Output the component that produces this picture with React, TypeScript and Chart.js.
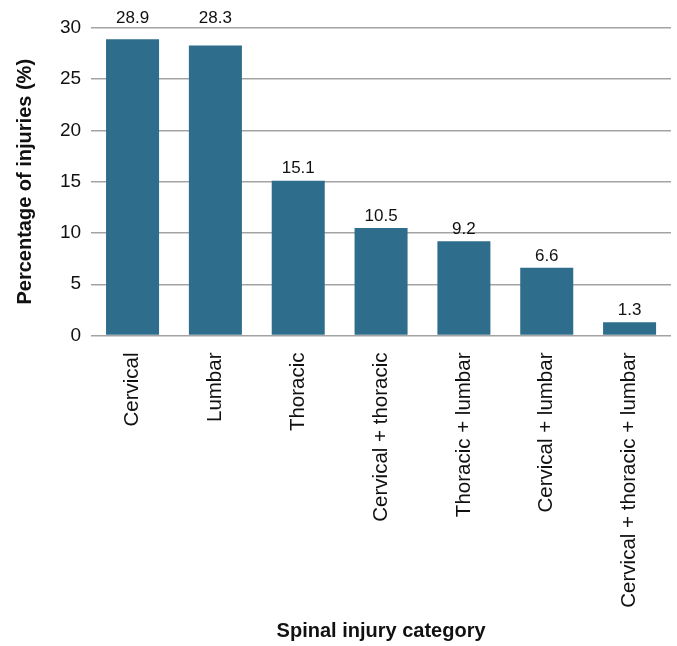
import React, { useEffect, useRef } from "react";
import { Chart, registerables } from "chart.js";

Chart.register(...registerables);

const categories = [
  "Cervical",
  "Lumbar",
  "Thoracic",
  "Cervical + thoracic",
  "Thoracic + lumbar",
  "Cervical + lumbar",
  "Cervical + thoracic + lumbar",
];
const percentages = [28.9, 28.3, 15.1, 10.5, 9.2, 6.6, 1.3];
const yTicks = [0, 5, 10, 15, 20, 25, 30];

const FONT = "Arial, 'Liberation Sans', Helvetica, sans-serif";
const BAR_COLOR = "#2e6d8c";

Chart.defaults.font.family = FONT;

const valueLabels = {
  id: "valueLabels",
  afterDatasetsDraw(chart: any) {
    const { ctx, chartArea } = chart;
    const meta = chart.getDatasetMeta(0);
    ctx.save();
    ctx.font = `17px ${FONT}`;
    ctx.fillStyle = "#111";
    ctx.textAlign = "center";
    ctx.textBaseline = "middle";
    meta.data.forEach((bar: any, i: number) => {
      let y = bar.y - 12;
      // keep labels clear of the top grid line
      if (y > chartArea.top - 10 && y < chartArea.top + 10) y = chartArea.top - 10;
      ctx.fillText(percentages[i].toFixed(1), bar.x, y);
    });
    ctx.restore();
  },
};

export default function App() {
  const ref = useRef<HTMLCanvasElement | null>(null);

  useEffect(() => {
    if (!ref.current) return;
    const chart = new Chart(ref.current, {
      type: "bar",
      data: {
        labels: categories,
        datasets: [
          {
            data: percentages,
            backgroundColor: BAR_COLOR,
            categoryPercentage: 1,
            barPercentage: 0.64,
          },
        ],
      },
      options: {
        animation: false,
        responsive: true,
        maintainAspectRatio: false,
        devicePixelRatio: 1,
        layout: { padding: { top: 28, right: 6, left: 13, bottom: 3 } },
        plugins: {
          legend: { display: false },
          tooltip: { enabled: false },
        },
        scales: {
          x: {
            grid: { display: false },
            border: { display: false },
            ticks: {
              color: "#111",
              font: { family: FONT, size: 20.5 },
              minRotation: 90,
              maxRotation: 90,
              autoSkip: false,
              padding: 9,
            },
            title: {
              display: true,
              text: "Spinal injury category",
              color: "#111",
              font: { family: FONT, size: 20, weight: "bold" },
              padding: { top: 10, bottom: 0 },
            },
          },
          y: {
            min: 0,
            max: 30,
            afterBuildTicks(axis: any) {
              axis.ticks = yTicks.map((v) => ({ value: v }));
            },
            grid: {
              color: "#a3a3a3",
              lineWidth: 1.5,
              drawTicks: false,
            },
            border: { display: false },
            ticks: {
              color: "#111",
              font: { family: FONT, size: 19 },
              padding: 10,
            },
            title: {
              display: true,
              text: "Percentage of injuries (%)",
              color: "#111",
              font: { family: FONT, size: 20, weight: "bold" },
              padding: { top: 0, bottom: 13 },
            },
          },
        },
      },
      plugins: [valueLabels],
    });
    return () => chart.destroy();
  }, []);

  return (
    <div
      style={{
        position: "fixed",
        left: 0,
        top: 0,
        width: 677,
        height: 646,
        background: "#fff",
      }}
    >
      <canvas ref={ref} />
    </div>
  );
}
